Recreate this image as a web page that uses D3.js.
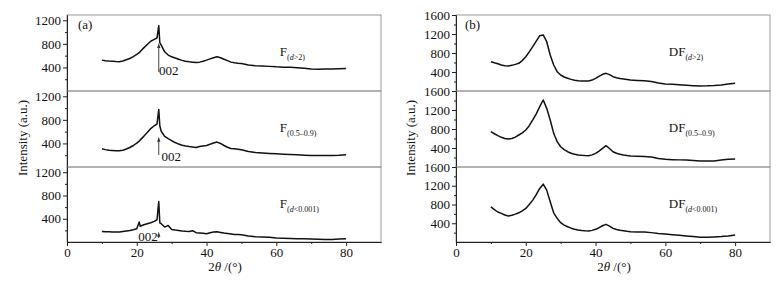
<!DOCTYPE html>
<html>
<head>
<meta charset="utf-8">
<script src="https://cdn.jsdelivr.net/npm/d3@7"></script>
<style>
  body { margin: 0; background: #fff; }
  svg text { font-family: "Times New Roman", Times, "Liberation Serif", serif; }
</style>
</head>
<body>
<svg id="chart"></svg>
<script>
// 2θ positions (left figure has extra points around the sharp 002 peak)
const twoThetaF = [10, 11, 12, 13, 14, 15, 16, 17, 18, 19,
    20, 20.7, 21, 22, 23, 24, 25, 25.8, 26.3, 26.6,
    27, 28, 29, 30, 31, 32, 33, 34, 35, 36,
    37, 38, 39, 40, 41, 42, 43, 44, 45, 46,
    47, 48, 49, 50, 52, 54, 56, 58, 60, 62,
    64, 66, 68, 70, 72, 74, 76, 78, 80];

const fD2 = [524, 515, 510, 507, 500, 495, 510, 530, 552, 585,
    620, 650, 672, 732, 790, 845, 875, 900, 1110, 820,
    777, 665, 610, 580, 560, 540, 520, 505, 495, 490,
    484, 490, 505, 524, 545, 563, 580, 565, 540, 515,
    490, 480, 472, 467, 440, 430, 425, 418, 410, 405,
    402, 395, 385, 372, 370, 372, 375, 378, 383];

const f0509 = [309, 295, 285, 280, 276, 274, 285, 305, 331, 365,
    406, 440, 460, 520, 585, 652, 700, 730, 978, 700,
    606, 520, 480, 446, 415, 389, 370, 358, 348, 340,
    331, 348, 358, 365, 385, 406, 423, 400, 365, 335,
    315, 309, 300, 292, 263, 245, 238, 230, 223, 218,
    212, 206, 200, 194, 194, 194, 197, 200, 206];

const fD0001 = [182, 178, 175, 171, 172, 171, 180, 190, 199, 212,
    228, 343, 270, 297, 315, 331, 355, 383, 697, 330,
    314, 257, 285, 216, 205, 199, 190, 185, 182, 195,
    160, 155, 150, 142, 160, 171, 176, 165, 154, 145,
    137, 130, 128, 125, 103, 92, 85, 80, 69, 64,
    60, 57, 54, 51, 48, 45, 45, 50, 57];

const twoThetaDF = [10, 11, 12, 13, 14, 15, 16, 17, 18, 19,
    20, 21, 22, 23, 24, 25, 26, 27, 28, 29,
    30, 31, 32, 33, 34, 35, 36, 37, 38, 39,
    40, 41, 42, 43, 44, 45, 46, 47, 48, 49,
    50, 52, 54, 56, 58, 60, 62, 64, 66, 68,
    70, 72, 74, 76, 78, 80];

const dfD2 = [617, 595, 575, 547, 532, 526, 540, 560, 583, 640,
    722, 825, 933, 1050, 1164, 1180, 1038, 758, 547, 406,
    337, 295, 267, 245, 228, 217, 212, 210, 211, 230,
    267, 310, 351, 372, 345, 301, 280, 262, 253, 242,
    232, 222, 214, 200, 170, 147, 140, 130, 122, 112,
    105, 108, 115, 128, 145, 162];

const df0509 = [743, 700, 660, 625, 600, 590, 600, 630, 674, 720,
    779, 870, 990, 1120, 1270, 1410, 1235, 990, 709, 533,
    427, 365, 322, 290, 268, 253, 245, 240, 238, 255,
    288, 335, 393, 449, 390, 322, 290, 268, 253, 240,
    232, 228, 222, 210, 180, 162, 155, 150, 145, 135,
    126, 125, 128, 145, 162, 168];

const dfD0001 = [751, 690, 640, 610, 575, 553, 570, 595, 623, 665,
    717, 800, 894, 1010, 1142, 1234, 1106, 857, 623, 504,
    411, 360, 326, 295, 272, 255, 245, 238, 234, 248,
    270, 305, 347, 377, 340, 291, 265, 250, 240, 228,
    219, 215, 212, 200, 180, 170, 155, 142, 130, 115,
    100, 102, 108, 115, 130, 149];

const xTicks = [0, 20, 40, 60, 80];
const xMinorTicks = [10, 30, 50, 70];
const yTicksF = [400, 800, 1200];
const yMinorF = [200, 600, 1000];
const yTicksDF = [400, 800, 1200, 1600];
const yMinorDF = [200, 600, 1000, 1400];

// subscripts: [text, italic]
const subD2 = [['(', false], ['d', true], ['>2)', false]];
const sub0509 = [['(0.5\u20130.9)', false]];
const subD0001 = [['(', false], ['d', true], ['<0.001)', false]];

const W = 781, H = 281;
const panelTops = [15, 91, 167];
const panelBottoms = [91, 167, 242];
const axisColor = '#222';
const frameColor = '#999';

const svg = d3.select('#chart').attr('width', W).attr('height', H);

function drawFigure(cfg) {
    const x = d3.scaleLinear().domain([0, 90]).range([cfg.left, cfg.right]);
    const g = svg.append('g');

    cfg.series.forEach((s, i) => {
        const y = d3.scaleLinear().domain(cfg.yDomain).range([panelBottoms[i], panelTops[i]]);

        // panel frame
        g.append('rect')
            .attr('x', cfg.left).attr('y', panelTops[i])
            .attr('width', cfg.right - cfg.left)
            .attr('height', panelBottoms[i] - panelTops[i])
            .attr('fill', 'none').attr('stroke', frameColor).attr('stroke-width', 1);

        const yAxis = d3.axisLeft(y).tickValues(cfg.yTicks).tickFormat(d3.format('d'))
            .tickSize(4).tickPadding(2).tickSizeOuter(0);
        const yMinor = d3.axisLeft(y).tickValues(cfg.yMinor).tickSize(2).tickFormat('').tickSizeOuter(0);

        const ya = g.append('g').attr('transform', `translate(${cfg.left},0)`).call(yAxis);
        g.append('g').attr('transform', `translate(${cfg.left},0)`).call(yMinor);
        ya.selectAll('text').attr('font-size', 13).attr('fill', '#111');
        g.selectAll('.domain, .tick line').attr('stroke', axisColor);

        const line = d3.line()
            .x((d, j) => x(cfg.xs[j]))
            .y(d => y(d));

        g.append('path')
            .datum(s.values)
            .attr('fill', 'none')
            .attr('stroke', '#111')
            .attr('stroke-width', 1.5)
            .attr('stroke-linejoin', 'round')
            .attr('d', line);

        // curve label
        const lab = g.append('text')
            .attr('x', x(61))
            .attr('y', panelTops[i] + 41)
            .attr('font-size', 13)
            .attr('fill', '#111');
        lab.append('tspan').text(cfg.prefix);
        s.sub.forEach((p, k) => {
            const t = lab.append('tspan')
                .attr('font-size', 8)
                .attr('font-style', p[1] ? 'italic' : 'normal')
                .text(p[0]);
            if (k === 0) t.attr('dy', 4);
        });

        // 002 annotation
        if (s.note) {
            const n = s.note;
            const ax = x(n.at);
            const yTop = y(n.from), yBot = y(n.to);
            g.append('line')
                .attr('x1', ax).attr('x2', ax)
                .attr('y1', yTop + 3).attr('y2', yBot)
                .attr('stroke', '#444').attr('stroke-width', 1);
            g.append('path')
                .attr('d', `M${ax},${yTop} L${ax - 1.6},${yTop + 5} L${ax + 1.6},${yTop + 5} Z`)
                .attr('fill', '#333');
            g.append('text')
                .attr('x', x(n.tx)).attr('y', y(n.ty))
                .attr('font-size', 13).attr('fill', '#111')
                .text('002');
        }
    });

    // bottom axis
    const xAxis = d3.axisBottom(x).tickValues(xTicks).tickSize(4).tickPadding(2).tickSizeOuter(0);
    const xMinor = d3.axisBottom(x).tickValues(xMinorTicks).tickSize(2).tickFormat('').tickSizeOuter(0);
    const base = panelBottoms[2];
    const xa = g.append('g').attr('transform', `translate(0,${base})`).call(xAxis);
    g.append('g').attr('transform', `translate(0,${base})`).call(xMinor);
    xa.selectAll('text').attr('font-size', 13).attr('fill', '#111');
    g.selectAll('.domain, .tick line').attr('stroke', axisColor);

    // panel tag
    g.append('text')
        .attr('x', cfg.left + cfg.tagDx).attr('y', 29)
        .attr('font-size', 13).attr('fill', '#111')
        .text(cfg.tag);

    // axis titles
    const xt = g.append('text')
        .attr('x', (cfg.left + cfg.right) / 2 + 1).attr('y', 271)
        .attr('text-anchor', 'middle')
        .attr('font-size', 13).attr('fill', '#111');
    xt.append('tspan').text('2');
    xt.append('tspan').attr('font-style', 'italic').text('\u03b8');
    xt.append('tspan').text(' /(\u00b0)');

    g.append('text')
        .attr('transform', `translate(${cfg.yTitleX},138) rotate(-90)`)
        .attr('text-anchor', 'middle')
        .attr('font-size', 13).attr('fill', '#111')
        .text('Intensity (a.u.)');
}

drawFigure({
    left: 67, right: 381,
    yDomain: [0, 1290],
    yTicks: yTicksF, yMinor: yMinorF,
    xs: twoThetaF,
    prefix: 'F',
    tag: '(a)', tagDx: 11,
    yTitleX: 27,
    series: [
        {values: fD2, sub: subD2, note: {at: 26.3, from: 815, to: 322, tx: 26.4, ty: 272}},
        {values: f0509, sub: sub0509, note: {at: 26.3, from: 514, to: 204, tx: 27.1, ty: 102}},
        {values: fD0001, sub: subD0001, note: {at: 26.3, from: 175, to: 68, tx: 20.4, ty: 17}}
    ]
});

drawFigure({
    left: 456, right: 770,
    yDomain: [0, 1600],
    yTicks: yTicksDF, yMinor: yMinorDF,
    xs: twoThetaDF,
    prefix: 'DF',
    tag: '(b)', tagDx: 9,
    yTitleX: 415,
    series: [
        {values: dfD2, sub: subD2},
        {values: df0509, sub: sub0509},
        {values: dfD0001, sub: subD0001}
    ]
});
</script>
</body>
</html>
